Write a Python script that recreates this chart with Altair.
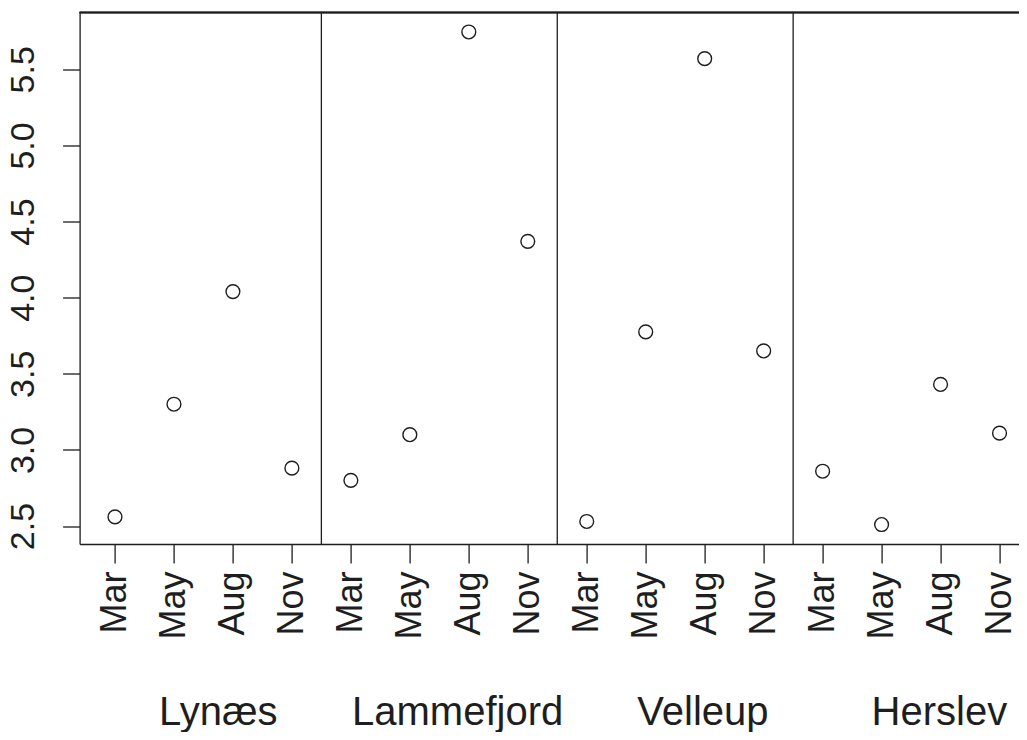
import altair as alt
import pandas as pd

months = ["Mar", "May", "Aug", "Nov"]
sites = ["Lynæs", "Lammefjord", "Velleup", "Herslev"]
lynaes = [2.56, 3.30, 4.04, 2.88]
lammefjord = [2.80, 3.10, 5.745, 4.37]
velleup = [2.53, 3.775, 5.57, 3.65]
herslev = [2.86, 2.51, 3.43, 3.11]
y_ticks = [2.5, 3.0, 3.5, 4.0, 4.5, 5.0, 5.5]
site_label_pos = [2.75, 6.81, 10.97, 14.98]

series = [lynaes, lammefjord, velleup, herslev]
rows = []
for i, (s, vals) in enumerate(zip(sites, series)):
    for j, (m, v) in enumerate(zip(months, vals)):
        rows.append({"idx": i * len(months) + j + 1, "month": m, "site": s, "value": v})
df = pd.DataFrame(rows)

n = len(months) * len(sites)
dividers = pd.DataFrame({"idx": [len(months) * (k + 1) + 0.5 for k in range(len(sites) - 1)]})
labels_df = pd.DataFrame({"site": sites, "idx": site_label_pos})

FONT = "Liberation Sans"
INK = "#1e1e1e"
PAD_L = 71.6
PAD_T = 4.5
W = 1011 - PAD_L
H = 531.5
TOTAL_H = 724
x_domain = [0.4, 0.4 + W / 58.97]
y_domain = [2.382, 5.873]

month_js = "[" + ",".join("'" + m + "'" for m in months) + "]"

x_scale = alt.Scale(domain=x_domain, nice=False, zero=False)
y_scale = alt.Scale(domain=y_domain, nice=False, zero=False)

bottom_axis = alt.Axis(
    values=list(range(1, n + 1)),
    labelExpr=month_js + "[(datum.value - 1) % 4]",
    labelAngle=270,
    labelAlign="right",
    labelBaseline="middle",
    labelFontSize=36,
    labelFont=FONT,
    labelColor=INK,
    labelPadding=8,
    tickSize=19,
    tickColor=INK,
    tickWidth=1.3,
    domainColor=INK,
    domainWidth=1.3,
    grid=False,
    title=None,
    labelOverlap=False,
    labelFlush=False,
    labelBound=False,
)

left_axis = alt.Axis(
    values=y_ticks,
    format=".1f",
    labelAngle=270,
    labelAlign="center",
    labelBaseline="alphabetic",
    labelFontSize=34,
    labelFont=FONT,
    labelColor=INK,
    labelPadding=29,
    tickSize=17,
    tickColor=INK,
    tickWidth=1.3,
    domainColor=INK,
    domainWidth=1.3,
    grid=False,
    title=None,
    labelOverlap=False,
    labelFlush=False,
    labelBound=False,
)

points = alt.Chart(df).mark_point(
    shape="circle", filled=False, size=190, strokeWidth=1.4, color=INK, opacity=1
).encode(
    x=alt.X("idx:Q", scale=x_scale, axis=bottom_axis),
    y=alt.Y("value:Q", scale=y_scale, axis=left_axis),
)

top_line = alt.Chart(labels_df).mark_rule(color=INK, strokeWidth=1.3).encode(
    x=alt.value(0), x2=alt.value(W + 10), y=alt.value(0)
)

rules = alt.Chart(dividers).mark_rule(color=INK, strokeWidth=1.3).encode(
    x=alt.X("idx:Q", scale=x_scale)
)

site_text = alt.Chart(labels_df).mark_text(
    font=FONT, fontSize=40, color=INK, baseline="alphabetic", align="center"
).encode(
    x=alt.X("idx:Q", scale=x_scale),
    y=alt.value(712),
    text="site:N",
)

chart = alt.layer(points, top_line, rules, site_text).properties(
    width=W,
    height=H,
    autosize=alt.AutoSizeParams(type="none"),
    padding={"left": PAD_L, "top": PAD_T, "right": 0, "bottom": TOTAL_H - PAD_T - H},
    background="white",
).configure_view(stroke=None)

chart.save("out.html", embed_options={"renderer": "svg", "actions": False})
